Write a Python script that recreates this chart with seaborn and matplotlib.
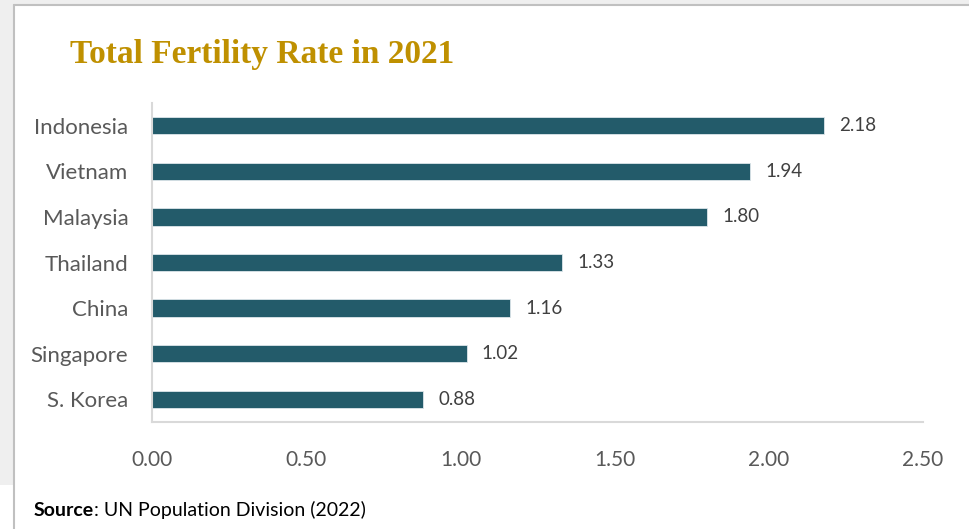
import matplotlib
matplotlib.use("Agg")
import matplotlib.pyplot as plt
from matplotlib.patches import Rectangle
from matplotlib.lines import Line2D
import pandas as pd
import seaborn as sns

# ── data ────────────────────────────────────────────────
countries = ["Indonesia", "Vietnam", "Malaysia", "Thailand", "China", "Singapore", "S. Korea"]
tfr = [2.18, 1.94, 1.80, 1.33, 1.16, 1.02, 0.88]
x_ticks = [0.0, 0.5, 1.0, 1.5, 2.0, 2.5]

W, H = 969, 529
BAR = "#235B6A"
GREY_TXT = "#595959"

sns.set_style("white")
plt.rcParams["font.family"] = ["Lato", "DejaVu Sans"]

df = pd.DataFrame({"country": countries, "tfr": tfr})

fig = plt.figure(figsize=(W / 100, H / 100), dpi=100)
ax = fig.add_axes([152 / W, 1 - 422 / H, (923 - 152) / W, (422 - 103) / H])

sns.barplot(data=df, x="tfr", y="country", color=BAR, width=0.38,
            edgecolor="#DDE6EA", linewidth=0.6, saturation=1, ax=ax)

for c in ax.containers:
    ax.bar_label(c, fmt="%.2f", padding=11, fontsize=13.5, color="#404040")

ax.set_xlim(0, 2.5)
ax.set_ylim(6.5, -0.5)
ax.set_xticks(x_ticks)
ax.set_xticklabels([f"{v:.2f}" for v in x_ticks], fontsize=15, color=GREY_TXT)
ax.tick_params(axis="x", length=0, pad=20)
ax.tick_params(axis="y", length=0, pad=17, labelsize=16, labelcolor=GREY_TXT)
ax.set_xlabel("")
ax.set_ylabel("")
for side in ["top", "right"]:
    ax.spines[side].set_visible(False)
for side in ["left", "bottom"]:
    ax.spines[side].set_color("#D9D9D9")
    ax.spines[side].set_linewidth(1.5)

# frame around the chart
fig.add_artist(Rectangle((0, 1 - 485 / H), 14 / W, 485 / H, transform=fig.transFigure,
                         facecolor="#EFEFEF", edgecolor="none", zorder=0))
fig.add_artist(Rectangle((0, 1 - 5 / H), 1, 5 / H, transform=fig.transFigure,
                         facecolor="#EFEFEF", edgecolor="none", zorder=0))
fig.add_artist(Line2D([14 / W, 14 / W], [0, 1 - 5 / H], transform=fig.transFigure,
                      color="#C0C0C0", linewidth=1.5))
fig.add_artist(Line2D([14 / W, 1], [1 - 5 / H, 1 - 5 / H], transform=fig.transFigure,
                      color="#C0C0C0", linewidth=1.5))

fig.text(70 / W, 1 - 55 / H, "Total Fertility Rate in 2021", fontsize=24, fontweight="bold",
         color="#BF9000", family=["Liberation Serif", "DejaVu Serif"], va="center", ha="left")

src = fig.text(34 / W, 1 - 510 / H, "Source", fontsize=14, fontweight="bold",
               color="black", va="center", ha="left")
fig.canvas.draw()
bb = src.get_window_extent()
fig.text(bb.x1 / W, 1 - 510 / H, ": UN Population Division (2022)", fontsize=14,
         color="black", va="center", ha="left")

fig.savefig("out.png", dpi=100)
